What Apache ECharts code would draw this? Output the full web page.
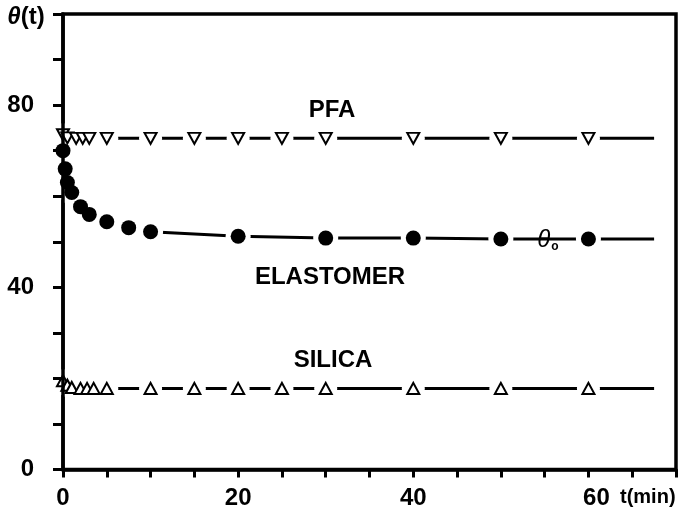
<!DOCTYPE html>
<html>
<head>
<meta charset="utf-8">
<title>theta(t)</title>
<script src="https://cdn.jsdelivr.net/npm/echarts@6/dist/echarts.min.js"></script>
<style>
    html, body { margin: 0; padding: 0; background: #fff; }
    #chart { width: 681px; height: 529px; }
</style>
</head>
<body>
<div id="chart"></div>
<script>
/* 数据start */
// PFA (倒三角)
let pfaT = [0, 0.5, 1.5, 2.25, 3, 5, 10, 15, 20, 25, 30, 40, 50, 60]
let pfaV = [73.5, 72.8, 72.7, 72.7, 72.7, 72.7, 72.7, 72.7, 72.7, 72.7, 72.7, 72.7, 72.7, 72.7]
// ELASTOMER (实心圆)
let elaT = [0, 0.25, 0.5, 1, 2, 3, 5, 7.5, 10, 20, 30, 40, 50, 60]
let elaV = [70, 66, 63, 60.8, 57.7, 56, 54.4, 53.1, 52.2, 51.2, 50.8, 50.8, 50.6, 50.6]
// SILICA (正三角)
let silT = [0, 0.5, 1, 2, 2.75, 3.5, 5, 10, 15, 20, 25, 30, 40, 50, 60]
let silV = [19.5, 18.5, 18, 17.8, 17.8, 17.8, 17.8, 17.8, 17.8, 17.8, 17.8, 17.8, 17.8, 17.8, 17.8]
// 拟合线尾端
let tailT = 67.5
let tailV = [72.7, 50.6, 17.8]

// 坐标轴刻度标签
let xLabels = [0, 20, 40, 60]
let yLabels = [0, 40, 80]
/* 数据end */

let font = '"Liberation Sans", Arial, Helvetica, sans-serif'

function points(ts, vs) {
    return ts.map((t, i) => [t, vs[i]])
}

function linePoints(ts, vs, tail) {
    let data = points(ts, vs)
    data.push([tailT, tail])
    return data
}

// 线 + 白色留白 + 标记
function lineSeries(name, data) {
    return {
        name: name,
        type: 'line',
        data: data,
        symbol: 'none',
        z: 1,
        lineStyle: {color: '#000', width: 3}
    }
}

function haloSeries(data, size) {
    return {
        type: 'scatter',
        data: data,
        symbol: 'circle',
        symbolSize: size,
        z: 2,
        itemStyle: {color: '#fff', opacity: 1},
        silent: true
    }
}

function markSeries(name, data, symbol, size, rotate) {
    return {
        name: name,
        type: 'scatter',
        data: data,
        symbol: symbol,
        symbolSize: size,
        symbolRotate: rotate || 0,
        z: 3,
        itemStyle: {
            color: '#000',
            opacity: 1,
            borderColor: '#000',
            borderWidth: symbol === 'circle' ? 0 : 2.5
        }
    }
}

let pfaPts = points(pfaT, pfaV)
let elaPts = points(elaT, elaV)
let silPts = points(silT, silV)

let chart = echarts.init(document.getElementById('chart'), null, {renderer: 'canvas'})

let option = {
    animation: false,
    backgroundColor: '#fff',
    grid: {
        left: 63,
        right: 5,
        top: 14,
        bottom: 59.5,
        show: true,
        borderColor: '#000',
        borderWidth: 3.5
    },
    xAxis: {
        type: 'value',
        z: 10,
        min: 0,
        max: 70,
        interval: 5,
        axisLine: {lineStyle: {color: '#000', width: 3.5}},
        axisTick: {length: 8, lineStyle: {color: '#000', width: 3}},
        splitLine: {show: false},
        axisLabel: {
            margin: 17,
            color: '#000',
            fontSize: 24,
            fontWeight: 'bold',
            fontFamily: font,
            formatter: function (v) {
                if (xLabels.indexOf(v) < 0) return ''
                if (v === 60) return '{s|60}'
                return String(v)
            },
            rich: {
                s: {fontSize: 24, fontWeight: 'bold', fontFamily: font, color: '#000', padding: [0, 0, 0, 16]}
            }
        }
    },
    yAxis: {
        type: 'value',
        z: 10,
        min: 0,
        max: 100,
        interval: 10,
        axisLine: {lineStyle: {color: '#000', width: 3.5}},
        axisTick: {length: 10, lineStyle: {color: '#000', width: 3}},
        splitLine: {show: false},
        axisLabel: {
            margin: 29,
            color: '#000',
            fontSize: 24,
            fontWeight: 'bold',
            fontFamily: font,
            formatter: function (v) {
                return yLabels.indexOf(v) < 0 ? '' : String(v)
            }
        }
    },
    series: [
        lineSeries('PFA', linePoints(pfaT, pfaV, tailV[0])),
        lineSeries('ELASTOMER', linePoints(elaT, elaV, tailV[1])),
        lineSeries('SILICA', linePoints(silT, silV, tailV[2])),
        haloSeries(pfaPts, 23),
        haloSeries(elaPts, 25),
        haloSeries(silPts, 23),
        markSeries('PFA', pfaPts, 'emptyTriangle', [12, 11], 180),
        markSeries('ELASTOMER', elaPts, 'circle', 15),
        markSeries('SILICA', silPts, 'emptyTriangle', [12, 11])
    ],
    graphic: [
        {
            type: 'text', x: 26, y: 17,
            style: {
                text: '{i|θ}(t)', align: 'center', verticalAlign: 'middle',
                fontSize: 24, fontWeight: 'bold', fontFamily: font, fill: '#000',
                rich: {i: {fontSize: 24, fontWeight: 'bold', fontStyle: 'italic', fontFamily: font, fill: '#000'}}
            }
        },
        {
            type: 'text', x: 332, y: 110,
            style: {text: 'PFA', align: 'center', verticalAlign: 'middle', fontSize: 24, fontWeight: 'bold', fontFamily: font, fill: '#000'}
        },
        {
            type: 'text', x: 330, y: 277,
            style: {text: 'ELASTOMER', align: 'center', verticalAlign: 'middle', fontSize: 24, fontWeight: 'bold', fontFamily: font, fill: '#000'}
        },
        {
            type: 'text', x: 333, y: 360,
            style: {text: 'SILICA', align: 'center', verticalAlign: 'middle', fontSize: 24, fontWeight: 'bold', fontFamily: font, fill: '#000'}
        },
        {
            type: 'text', x: 548, y: 240,
            style: {
                text: '{i|θ}{o|o}', align: 'center', verticalAlign: 'middle', fill: '#000',
                backgroundColor: '#fff',
                padding: [4, 22, 4, 22],
                rich: {
                    i: {fontSize: 24, fontStyle: 'italic', fontFamily: font, fill: '#000'},
                    o: {fontSize: 12, fontWeight: 'bold', fontFamily: font, fill: '#000', padding: [14, 0, 0, 1]}
                }
            }
        },
        {
            type: 'text', x: 620, y: 497,
            style: {text: 't(min)', align: 'left', verticalAlign: 'middle', fontSize: 20, fontWeight: 'bold', fontFamily: font, fill: '#000'}
        }
    ]
}

chart.setOption(option)

window.onresize = function () {
    chart.resize()
}
</script>
</body>
</html>
